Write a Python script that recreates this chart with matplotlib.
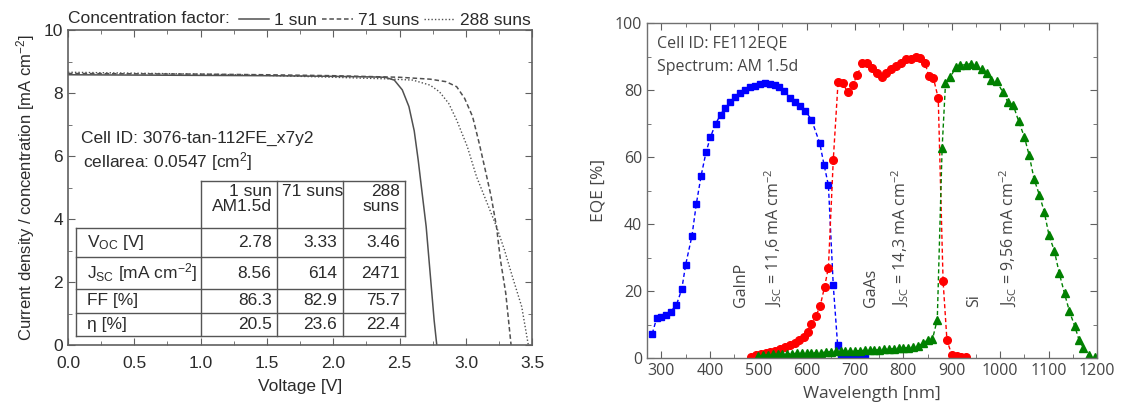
import matplotlib
matplotlib.use("Agg")
import matplotlib.pyplot as plt
from matplotlib.ticker import MultipleLocator

plt.rcParams['mathtext.default'] = 'regular'

# ---- left panel: J-V curves ----
sun1_v = [0, 0.5, 1.0, 1.5, 2.0, 2.3, 2.39, 2.46, 2.52, 2.57, 2.61, 2.64, 2.67, 2.70, 2.73, 2.76, 2.78]
sun1_j = [8.58, 8.57, 8.56, 8.55, 8.53, 8.51, 8.5, 8.41, 8.1, 7.57, 6.8, 5.87, 4.81, 3.76, 2.28, 0.79, 0]

sun71_v = [0, 0.5, 1.0, 1.5, 2.0, 2.5, 2.73, 2.85, 2.93, 2.99, 3.05, 3.10, 3.14, 3.19, 3.23, 3.26, 3.30, 3.34]
sun71_j = [8.62, 8.61, 8.6, 8.58, 8.55, 8.5, 8.44, 8.36, 8.2, 7.83, 7.25, 6.4, 5.66, 4.71, 3.76, 2.7, 1.64, 0]

sun288_v = [0, 0.5, 1.0, 1.5, 2.0, 2.4, 2.6, 2.73, 2.80, 2.87, 2.93, 3.01, 3.08, 3.16, 3.23, 3.29, 3.35, 3.42, 3.47]
sun288_j = [8.66, 8.63, 8.6, 8.56, 8.5, 8.45, 8.41, 8.25, 8.04, 7.67, 7.14, 6.3, 5.34, 4.5, 3.76, 3.02, 2.17, 1.22, 0]

col_heads = ['1 sun\nAM1.5d', '71 suns', '288\nsuns']
row_labels = ['V$_{OC}$ [V]', 'J$_{SC}$ [mA cm$^{-2}$]', 'FF [%]', 'η [%]']
table_vals = [['2.78', '3.33', '3.46'],
              ['8.56', '614', '2471'],
              ['86.3', '82.9', '75.7'],
              ['20.5', '23.6', '22.4']]

# ---- right panel: EQE ----
gainp_nm = [281, 290, 299, 309, 319, 331, 342, 350, 363, 372, 382, 392, 401, 412, 422, 431,
            442, 452, 463, 473, 483, 494, 504, 513, 524, 534, 543, 554, 566, 576, 587, 597,
            610, 627, 636, 645, 655, 664, 672, 682, 692, 702, 712, 720]
gainp_eqe = [7.3, 11.9, 12.4, 12.9, 13.9, 15.9, 20.6, 27.9, 36.5, 46, 54.5, 61.4, 65.9, 70, 72.6, 74.8,
             76.6, 77.8, 79.1, 80.1, 80.8, 81.3, 81.9, 82.1, 81.9, 81.6, 80.9, 79.6, 77.6, 76.6, 75.3, 73.8,
             71.2, 64.2, 57.7, 51.6, 21.8, 4, 0, 0, 0, 0, 0, 0]

gaas_nm = [485, 495, 505, 515, 525, 535, 545, 555, 565, 575, 585, 595, 603, 610, 619, 628, 637, 645,
           655, 665, 675, 685, 695, 705, 715, 725, 735, 745, 755, 765, 775, 785, 795, 805, 815, 825,
           835, 845, 852, 862, 872, 882, 890, 900, 910, 920, 930]
gaas_eqe = [0.2, 0.8, 1.2, 1.5, 1.8, 2.2, 2.7, 3.2, 3.8, 4.5, 5.5, 6.3, 7.7, 10.2, 12.5, 15.6, 21.2, 27,
            59, 82.5, 82, 79.3, 81.6, 84.6, 88, 88, 86.5, 85.2, 84, 85.2, 86.2, 87.2, 88.2, 89.2, 89.4, 90,
            89.5, 88, 84.3, 83.6, 77.6, 23, 5.3, 1, 0.5, 0.3, 0.2]

si_nm = [500, 510, 520, 530, 540, 550, 560, 570, 580, 590, 600, 610, 620, 630, 640, 650, 660, 670,
         680, 690, 700, 710, 720, 730, 740, 750, 760, 770, 780, 790, 800, 810, 820, 830, 840, 850,
         860, 870, 880, 887, 897, 908, 918, 929, 940, 950, 962, 972, 982, 993, 1005, 1016, 1027,
         1038, 1050, 1060, 1070, 1081, 1091, 1101, 1112, 1122, 1133, 1143, 1154, 1163, 1172, 1183, 1195]
si_eqe = [0.5, 0.8, 1.0, 1.1, 1.2, 1.2, 1.3, 1.3, 1.4, 1.4, 1.5, 1.5, 1.6, 1.6, 1.8, 1.9, 2.0, 2.1,
          2.1, 2.1, 2.2, 2.2, 2.3, 2.3, 2.4, 2.5, 2.6, 2.7, 2.8, 2.9, 3.0, 3.1, 3.2, 3.5, 4.5, 5.3,
          5.6, 11.5, 62.7, 82, 83.8, 86.8, 87.4, 87.6, 87.9, 87.5, 86.3, 85.2, 83, 82.6, 79.5, 76.4, 75.5,
          70.8, 66, 60.5, 53.5, 48.7, 43.7, 36.6, 32, 25.4, 19.3, 14, 9.6, 5.4, 3, 0.8, 0.3]

left_font = 'Liberation Sans'
right_font = 'Open Sans'
txt_l = '#2b2b2b'
txt_r = '#454545'
fs_l = 12.5
fs_r = 11.5

fig = plt.figure(figsize=(11.23, 4.13), dpi=100)

# ================= left =================
ax = fig.add_axes([0.0605, 0.1646, 0.4135, 0.7627])
line_col = '#505050'
ax.plot(sun1_v, sun1_j, color=line_col, lw=1.1, ls='-', label='1 sun')
ax.plot(sun71_v, sun71_j, color=line_col, lw=1.1, ls=(0, (3, 1.8)), label='71 suns')
ax.plot(sun288_v, sun288_j, color=line_col, lw=1.0, ls=(0, (1, 1.5)), label='288 suns')
ax.set_xlim(0, 3.5)
ax.set_ylim(0, 10)
ax.xaxis.set_major_locator(MultipleLocator(0.5))
ax.xaxis.set_minor_locator(MultipleLocator(0.25))
ax.yaxis.set_major_locator(MultipleLocator(2))
ax.yaxis.set_minor_locator(MultipleLocator(1))
ax.tick_params(which='both', direction='in', top=True, right=True, colors='#606060',
               labelcolor=txt_l, labelsize=fs_l)
ax.tick_params(which='major', length=5)
ax.tick_params(which='minor', length=3)
ax.tick_params(axis='x', which='major', pad=8)
for lab in ax.get_xticklabels() + ax.get_yticklabels():
    lab.set_family(left_font)
for s in ax.spines.values():
    s.set_color('#606060')
    s.set_linewidth(1.2)
ax.set_xlabel('Voltage [V]', family=left_font, fontsize=fs_l, color=txt_l, labelpad=6)
ax.set_ylabel('Current density / concentration [mA cm$^{-2}$]', family=left_font,
              fontsize=12, color=txt_l, labelpad=5)

leg = ax.legend(loc='lower right', bbox_to_anchor=(1.0, 1.0), ncol=3, frameon=False,
                handlelength=1.75, handletextpad=0.3, columnspacing=0.3, borderaxespad=0.1,
                borderpad=0, prop={'family': left_font, 'size': fs_l})
for t in leg.get_texts():
    t.set_color(txt_l)
ax.text(0.0, 1.012, 'Concentration factor:', transform=ax.transAxes, family=left_font,
        fontsize=fs_l, color=txt_l, va='bottom', ha='left')

ax.text(0.095, 6.57, 'Cell ID: 3076-tan-112FE_x7y2', family=left_font, fontsize=fs_l,
        color=txt_l, va='center')
ax.text(0.11, 5.82, 'cellarea: 0.0547 [cm$^{2}$]', family=left_font, fontsize=fs_l,
        color=txt_l, va='center')

# table drawn in data coords
col_x = [0.06, 1.0, 1.575, 2.07, 2.54]
row_y = [5.2, 3.70, 2.80, 1.77, 1.03, 0.29]
tcol = '#555555'
tlw = 1.0
ax.plot([col_x[1], col_x[-1]], [row_y[0]] * 2, color=tcol, lw=tlw)
for yy in row_y[1:]:
    ax.plot([col_x[0], col_x[-1]], [yy] * 2, color=tcol, lw=tlw)
ax.plot([col_x[0]] * 2, [row_y[1], row_y[-1]], color=tcol, lw=tlw)
for xx in col_x[1:]:
    ax.plot([xx] * 2, [row_y[0], row_y[-1]], color=tcol, lw=tlw)
pad = 0.04
head_ha = ['right', 'left', 'right']
for i, h in enumerate(col_heads):
    xx = col_x[i + 2] - pad if head_ha[i] == 'right' else col_x[i + 1] + pad
    ax.text(xx, row_y[0] - 0.08, h, ha=head_ha[i], va='top', family=left_font,
            fontsize=fs_l, color=txt_l, linespacing=1.05)
for r, lab in enumerate(row_labels):
    yc = (row_y[r + 1] + row_y[r + 2]) / 2
    ax.text(col_x[0] + 0.08, yc, lab, ha='left', va='center', family=left_font,
            fontsize=fs_l, color=txt_l)
    for c in range(3):
        ax.text(col_x[c + 2] - pad, yc, table_vals[r][c], ha='right', va='center',
                family=left_font, fontsize=fs_l, color=txt_l)

# ================= right =================
bx = fig.add_axes([0.5761, 0.133, 0.4007, 0.811])
dash = (0, (3, 2))
bx.plot(gainp_nm, gainp_eqe, color='#0000ff', ls=dash, lw=1.0, marker='s', ms=5, mec='#0000ff')
bx.plot(gaas_nm, gaas_eqe, color='#ff0000', ls=dash, lw=1.0, marker='o', ms=5.5, mec='#ff0000')
bx.plot(si_nm, si_eqe, color='#008000', ls=dash, lw=1.0, marker='^', ms=5.5, mec='#008000')
bx.set_xlim(270, 1200)
bx.set_ylim(0, 100)
bx.xaxis.set_major_locator(MultipleLocator(100))
bx.xaxis.set_minor_locator(MultipleLocator(50))
bx.yaxis.set_major_locator(MultipleLocator(20))
bx.yaxis.set_minor_locator(MultipleLocator(10))
bx.tick_params(which='both', direction='in', top=True, right=True, colors='#606060',
               labelcolor=txt_r, labelsize=fs_r)
bx.tick_params(which='major', length=5)
bx.tick_params(which='minor', length=3)
for lab in bx.get_xticklabels() + bx.get_yticklabels():
    lab.set_family(right_font)
for s in bx.spines.values():
    s.set_color('#707070')
    s.set_linewidth(1.0)
bx.set_xlabel('Wavelength [nm]', family=right_font, fontsize=12.5, color=txt_r, labelpad=5)
bx.set_ylabel('EQE [%]', family=right_font, fontsize=12.5, color=txt_r, labelpad=6)

bx.text(290, 94, 'Cell ID: FE112EQE', family=right_font, fontsize=fs_r, color=txt_r, va='center')
bx.text(290, 87, 'Spectrum: AM 1.5d', family=right_font, fontsize=fs_r, color=txt_r, va='center')

rot_labels = [(464, 'GaInP'), (531, 'J$_{SC}$ = 11,6 mA cm$^{-2}$'),
              (733, 'GaAs'), (793, 'J$_{SC}$ = 14,3 mA cm$^{-2}$'),
              (947, 'Si'), (1017, 'J$_{SC}$ = 9,56 mA cm$^{-2}$')]
for xx, s in rot_labels:
    bx.text(xx, 15.3, s, rotation=90, ha='center', va='bottom', family=right_font,
            fontsize=fs_r, color=txt_r)

fig.savefig('out.png', dpi=100)
